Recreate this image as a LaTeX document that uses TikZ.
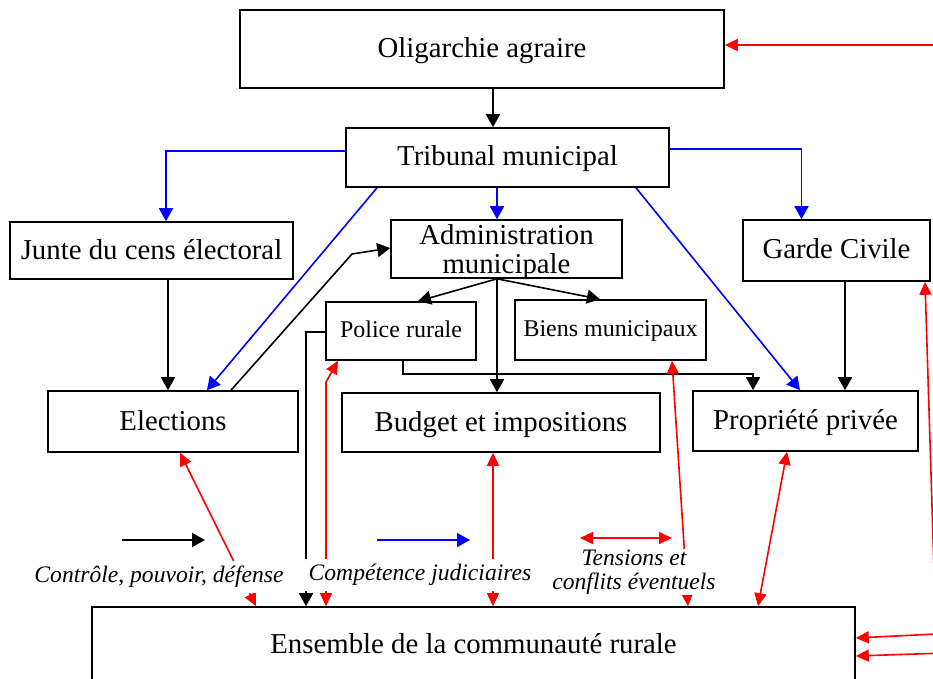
\documentclass[tikz,border=0pt]{standalone}
\usepackage{fontspec}
\setmainfont{Liberation Serif}
\usetikzlibrary{arrows.meta,calc}
\begin{document}
\begin{tikzpicture}[x=1pt,y=-1pt,
  box/.style={draw,line width=1.6pt,fill=white,rectangle,inner sep=0pt,align=center,font=\fontsize{28.8}{29}\selectfont,text depth=0.3em},
  sbox/.style={box,font=\fontsize{24}{25}\selectfont},
  con/.style={line width=1.6pt,-{Triangle[length=13pt,width=14pt]}},
  bcon/.style={con,draw=blue},
  rcon/.style={line width=1.6pt,draw=red,{Triangle[length=13pt,width=12pt]}-{Triangle[length=13pt,width=12pt]}},
  rin/.style={line width=1.6pt,draw=red,-{Triangle[length=13pt,width=12pt]}},
  lbl/.style={fill=white,inner xsep=4pt,inner ysep=5pt,font=\fontsize{23.6}{24}\selectfont\itshape,align=center}]
\useasboundingbox (0,0) rectangle (933,678);
\clip (0,0) rectangle (933,678);
\fill[white] (0,0) rectangle (933,678);
% nodes
\node[box,minimum width=484pt,minimum height=78pt] (olig) at (482,49) {Oligarchie agraire};
\node[box,minimum width=323pt,minimum height=59pt] (trib) at (507.5,157.5) {Tribunal municipal};
\node[box,minimum width=283pt,minimum height=57pt] (junte) at (151.5,250.5) {Junte du cens électoral};
\node[box,minimum width=231pt,minimum height=58pt,text depth=0pt] (admin) at (506.5,249) {\fontsize{28.8}{29.5}\selectfont Administration\\municipale};
\node[box,minimum width=187pt,minimum height=61pt] (garde) at (836.5,250.5) {Garde Civile};
\node[sbox,minimum width=150pt,minimum height=58pt] (police) at (401,331) {Police rurale};
\node[sbox,minimum width=191pt,minimum height=60pt] (biens) at (610.5,330) {Biens municipaux};
\node[box,minimum width=250pt,minimum height=61pt] (elect) at (173,421.5) {Elections};
\node[box,minimum width=318pt,minimum height=59pt] (budget) at (501,422.5) {Budget et impositions};
\node[box,minimum width=225pt,minimum height=60pt] (propr) at (805.5,421) {Propriété privée};
\node[box,minimum width=763pt,minimum height=76pt] (ens) at (473.5,645) {Ensemble de la communauté rurale};
% helper coordinates
\coordinate (eb) at (352,254);
\coordinate (pb) at (326,382);
\coordinate (r1) at (945,45);
\coordinate (r2) at (936,634);
\coordinate (r3) at (945,653);
\coordinate (la1) at (122,540);
\coordinate (la2) at (205,540);
\coordinate (lb1) at (377,540);
\coordinate (lb2) at (470,540);
\coordinate (lc1) at (580,538);
\coordinate (lc2) at (672,538);
% black connectors
\draw[con] ([xshift=11pt]olig.south) -- ([xshift=-14.5pt]trib.north);
\draw[con] ([xshift=16.5pt]junte.south) -- ([xshift=-5pt]elect.north);
\draw[con] ([xshift=58pt]elect.north) -- (eb) -- ([yshift=1pt]admin.west);
\draw[con] ([xshift=-9.5pt]admin.south) -- ([xshift=17pt]police.north);
\draw[con] ([xshift=-9.5pt]admin.south) -- ([xshift=-10.5pt]biens.north);
\draw[con] ([xshift=-9.5pt]admin.south) -- ([xshift=-4pt]budget.north);
\draw[con] ([xshift=2pt]police.south) -- ++(0,13) -| ([xshift=-52.5pt]propr.north);
\draw[con] ([xshift=8.5pt]garde.south) -- ([xshift=39.5pt]propr.north);
\draw[con] ([yshift=-1pt]police.west) -| ([xshift=-167.5pt]ens.north);
% blue connectors
\draw[bcon] ([yshift=6.5pt]trib.west) -| ([xshift=14.5pt]junte.north);
\draw[bcon] ([xshift=-10.5pt]trib.south) -- ([xshift=-9.5pt]admin.north);
\draw[bcon] ([yshift=8.5pt]trib.east) -| ([xshift=-35pt]garde.north);
\draw[bcon] ([xshift=-130.5pt]trib.south) -- ([xshift=34pt]elect.north);
\draw[bcon] ([xshift=128.5pt]trib.south) -- ([xshift=-5.5pt]propr.north);
% red connectors
\draw[rcon] ([xshift=-63pt]police.south) -- (pb) -- ([xshift=-147.5pt]ens.north);
\draw[rcon] ([xshift=7pt]elect.south) -- ([xshift=-217.5pt]ens.north);
\draw[rcon] ([xshift=-8pt]budget.south) -- ([xshift=19.5pt]ens.north);
\draw[rcon] ([xshift=61.5pt]biens.south) -- ([xshift=214.5pt]ens.north);
\draw[rcon] ([xshift=-18.5pt]propr.south) -- ([xshift=284.5pt]ens.north);
\draw[rcon] ([xshift=88.5pt]garde.south) -- (r2) -- ([yshift=7pt]ens.east);
\draw[rin] (r1) -- ([yshift=4pt]olig.east);
\draw[rin] (r3) -- ([yshift=-11pt]ens.east);
% legend
\draw[con] (la1) -- (la2);
\draw[bcon] (lb1) -- (lb2);
\draw[rcon] (lc1) -- (lc2);
\node[lbl] (l1) at (159,577) {Contrôle, pouvoir, défense};
\node[lbl] (l2) at (420,575) {Compétence judiciaires};
\node[lbl,inner ysep=1pt] (l3) at (634,572) {Tensions et\\conflits éventuels};
\end{tikzpicture}
\end{document}
